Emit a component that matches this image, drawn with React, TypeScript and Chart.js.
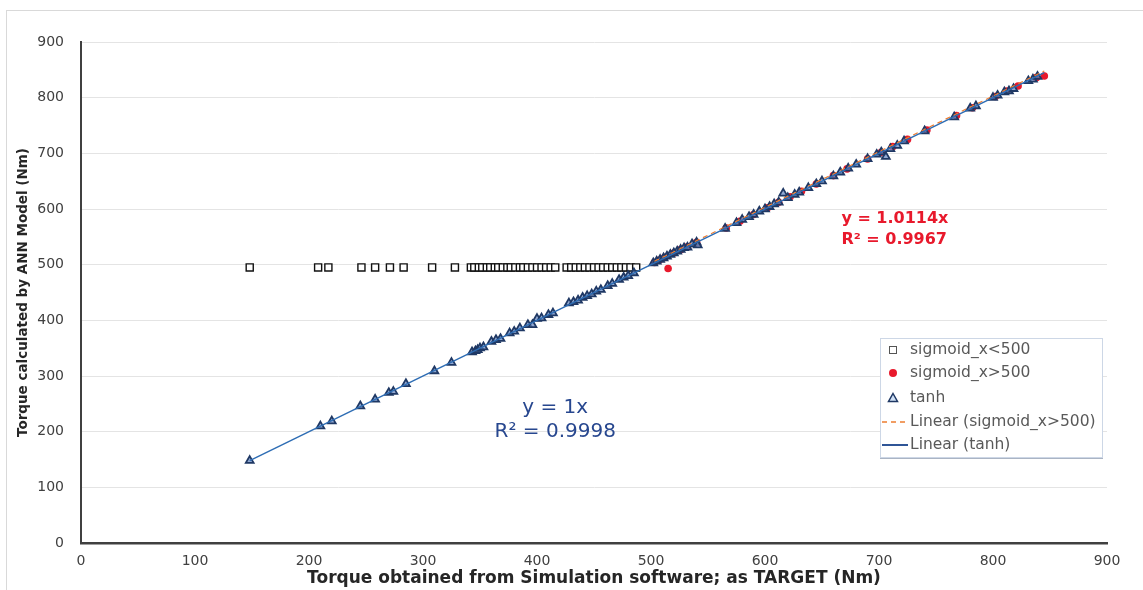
import React, { useEffect, useRef } from "react";
import { Chart, registerables } from "chart.js";

Chart.register(...registerables);

// ---------------- DATA ----------------
const sigLowX = [148, 208, 217, 246, 258, 271, 283, 308, 328, 342, 345, 349, 352, 356, 359, 363, 366, 370, 374, 377, 381, 385, 388, 392, 396, 400, 404, 408, 412, 416, 426, 430, 434, 438, 442, 446, 450, 454, 458, 462, 466, 470, 474, 478, 482, 487];
const sigLowY = [495, 495, 495, 495, 495, 495, 495, 495, 495, 495, 495, 495, 495, 495, 495, 495, 495, 495, 495, 495, 495, 495, 495, 495, 495, 495, 495, 495, 495, 495, 495, 495, 495, 495, 495, 495, 495, 495, 495, 495, 495, 495, 495, 495, 495, 495];

const sigHighX = [503, 507, 512, 515, 520, 526, 532, 540, 566, 578, 590, 602, 612, 622, 632, 645, 660, 672, 690, 702, 712, 725, 742, 768, 782, 802, 812, 822, 838, 845];
const sigHighY = [504, 508, 513, 493, 521, 527, 532, 540, 566, 578, 590, 602, 612, 622, 632, 645, 660, 672, 690, 702, 712, 725, 742, 768, 782, 802, 812, 821, 836, 839];

const tanhX = [148, 210, 220, 245, 258, 270, 274, 285, 310, 325, 343, 346, 348, 350, 353, 360, 364, 368, 376, 380, 385, 392, 396, 400, 404, 410, 414, 428, 432, 436, 440, 444, 448, 452, 456, 462, 466, 472, 476, 480, 485, 502, 505, 508, 511, 514, 517, 520, 523, 526, 529, 532, 536, 540, 541, 565, 575, 580, 586, 590, 595, 600, 604, 608, 612, 616, 620, 626, 630, 638, 645, 650, 660, 666, 673, 680, 690, 698, 702, 706, 710, 716, 722, 740, 766, 780, 785, 800, 804, 810, 814, 818, 831, 835, 839];
const tanhY = [148, 210, 219, 246, 258, 270, 272, 286, 309, 324, 343, 345, 347, 350, 352, 362, 365, 367, 377, 380, 386, 392, 392, 403, 404, 410, 413, 431, 433, 436, 441, 444, 447, 452, 455, 462, 466, 473, 477, 480, 485, 503, 506, 509, 512, 515, 518, 521, 524, 527, 530, 531, 537, 540, 535, 565, 575, 581, 586, 590, 596, 600, 604, 609, 612, 628, 620, 626, 630, 638, 645, 650, 659, 666, 673, 680, 690, 698, 702, 694, 708, 714, 722, 740, 765, 781, 785, 800, 804, 810, 812, 816, 830, 833, 838];

const trendSigX = [503, 845];
const trendSigY = [506, 848];
const trendTanhX = [148, 845];
const trendTanhY = [148, 845];

const axisMin = 0;
const axisMax = 900;
const axisStep = 100;

const seriesLabels = ["sigmoid_x<500", "sigmoid_x>500", "tanh", "Linear (sigmoid_x>500)", "Linear (tanh)"];
const xTitle = "Torque obtained from Simulation software; as TARGET (Nm)";
const yTitle = "Torque calculated by ANN Model (Nm)";
const eqSigLines = ["y = 1.0114x", "R² = 0.9967"];
const eqSigAnchor = [667, 582];
const eqTanhLines = ["y = 1x", "R² = 0.9998"];
const eqTanhAnchor = [416, 243];

// ---------------- STYLE ----------------
const FONT = "'DejaVu Sans', 'Open Sans', sans-serif";
const RED = "#e8192c";
const NAVY = "#1f3864";
const LINE_BLUE = "#2e6db4";
const ORANGE = "#ed7d31";
const TEXT_GREY = "#595959";
const TICK_GREY = "#404040";

const pts = (xs: number[], ys: number[]) => xs.map((x, i) => ({ x, y: ys[i] }));

const framePlugin = {
  id: "frame",
  beforeDraw(chart: any) {
    const ctx = chart.ctx;
    ctx.save();
    ctx.fillStyle = "#ffffff";
    ctx.fillRect(0, 0, chart.width, chart.height);
    ctx.strokeStyle = "#d9d9d9";
    ctx.lineWidth = 1;
    ctx.strokeRect(6.5, 10.5, chart.width + 20, chart.height + 20);
    ctx.restore();
  },
};

const annotationPlugin = {
  id: "annotations",
  afterDatasetsDraw(chart: any) {
    const ctx = chart.ctx;
    const xs = chart.scales.x;
    const ys = chart.scales.y;
    ctx.save();
    ctx.fillStyle = RED;
    ctx.font = `bold 16px ${FONT}`;
    ctx.textAlign = "left";
    ctx.textBaseline = "middle";
    const rx = xs.getPixelForValue(eqSigAnchor[0]);
    const ry = ys.getPixelForValue(eqSigAnchor[1]);
    eqSigLines.forEach((t, i) => ctx.fillText(t, rx, ry + i * 21));
    ctx.fillStyle = "#27478f";
    ctx.font = `20px ${FONT}`;
    ctx.textAlign = "center";
    const bx = xs.getPixelForValue(eqTanhAnchor[0]);
    const by = ys.getPixelForValue(eqTanhAnchor[1]);
    eqTanhLines.forEach((t, i) => ctx.fillText(t, bx, by + i * 24));
    ctx.restore();
  },
};

const legendPlugin = {
  id: "customLegend",
  afterDraw(chart: any) {
    const ctx = chart.ctx;
    const left = 880, top = 338, w = 222, h = 119;
    ctx.save();
    ctx.fillStyle = "#ffffff";
    ctx.fillRect(left, top, w, h);
    ctx.strokeStyle = "#cdd7e6";
    ctx.lineWidth = 1;
    ctx.strokeRect(left + 0.5, top + 0.5, w, h);
    ctx.strokeStyle = "#aab4c4";
    ctx.beginPath();
    ctx.moveTo(left, top + h + 1.5);
    ctx.lineTo(left + w + 1, top + h + 1.5);
    ctx.stroke();

    const rows = [350, 373, 398, 422, 445];
    const mx = 893;
    ctx.font = `15.5px ${FONT}`;
    ctx.textBaseline = "middle";
    ctx.textAlign = "left";
    rows.forEach((ry, i) => {
      ctx.save();
      if (i === 0) {
        ctx.strokeStyle = "#555";
        ctx.lineWidth = 1;
        ctx.strokeRect(mx - 3.5, ry - 3.5, 7, 7);
      } else if (i === 1) {
        ctx.fillStyle = RED;
        ctx.beginPath();
        ctx.arc(mx, ry, 4, 0, Math.PI * 2);
        ctx.fill();
      } else if (i === 2) {
        ctx.strokeStyle = NAVY;
        ctx.fillStyle = "#cfe0f5";
        ctx.lineWidth = 1.5;
        ctx.beginPath();
        ctx.moveTo(mx, ry - 4.5);
        ctx.lineTo(mx + 4.5, ry + 3.5);
        ctx.lineTo(mx - 4.5, ry + 3.5);
        ctx.closePath();
        ctx.fill();
        ctx.stroke();
      } else if (i === 3) {
        ctx.strokeStyle = ORANGE;
        ctx.lineWidth = 1.5;
        ctx.setLineDash([5, 4]);
        ctx.beginPath();
        ctx.moveTo(882, ry);
        ctx.lineTo(908, ry);
        ctx.stroke();
      } else {
        ctx.strokeStyle = "#2f5597";
        ctx.lineWidth = 2;
        ctx.beginPath();
        ctx.moveTo(882, ry);
        ctx.lineTo(908, ry);
        ctx.stroke();
      }
      ctx.restore();
      ctx.fillStyle = TEXT_GREY;
      ctx.fillText(seriesLabels[i], 910, ry);
    });
    ctx.restore();
  },
};

export default function App() {
  const ref = useRef<HTMLCanvasElement | null>(null);

  useEffect(() => {
    document.body.style.margin = "0";
    if (!ref.current) return;
    const chart = new Chart(ref.current, {
      type: "scatter",
      data: {
        datasets: [
          {
            label: seriesLabels[3],
            data: pts(trendSigX, trendSigY),
            showLine: true,
            borderColor: ORANGE,
            borderWidth: 1.2,
            borderDash: [5, 4],
            pointRadius: 0,
            order: 1,
          },
          {
            label: seriesLabels[4],
            data: pts(trendTanhX, trendTanhY),
            showLine: true,
            borderColor: LINE_BLUE,
            borderWidth: 1.5,
            pointRadius: 0,
            order: 0,
          },
          {
            label: seriesLabels[2],
            data: pts(tanhX, tanhY),
            pointStyle: "triangle",
            pointRadius: 4.5,
            borderColor: NAVY,
            backgroundColor: "rgba(110,140,195,0.75)",
            borderWidth: 1.8,
            order: 2,
          },
          {
            label: seriesLabels[1],
            data: pts(sigHighX, sigHighY),
            pointStyle: "circle",
            pointRadius: 3.8,
            borderColor: RED,
            backgroundColor: RED,
            borderWidth: 0,
            order: 3,
          },
          {
            label: seriesLabels[0],
            data: pts(sigLowX, sigLowY),
            pointStyle: "rect",
            pointRadius: 5,
            borderColor: "#111",
            backgroundColor: "#ffffff",
            borderWidth: 1.4,
            order: 4,
          },
        ],
      },
      options: {
        animation: false,
        responsive: false,
        maintainAspectRatio: false,
        layout: { padding: { left: 0, right: 36, top: 42, bottom: 0 } },
        plugins: { legend: { display: false }, tooltip: { enabled: false } },
        scales: {
          x: {
            type: "linear",
            min: axisMin,
            max: axisMax,
            ticks: { stepSize: axisStep, color: TICK_GREY, font: { family: FONT, size: 14 }, padding: 10 },
            grid: { color: "rgba(0,0,0,0)", drawTicks: false },
            border: { color: "#404040", width: 2.5 },
            title: {
              display: true,
              text: xTitle,
              color: "#262626",
              font: { family: FONT, size: 17, weight: "bold" },
              padding: { top: 0, bottom: 1 },
            },
            afterFit: (s: any) => {
              s.height = 47;
            },
          },
          y: {
            type: "linear",
            min: axisMin,
            max: axisMax,
            ticks: { stepSize: axisStep, color: TICK_GREY, font: { family: FONT, size: 14 }, padding: 17 },
            grid: { color: "#e4e4e4", drawTicks: false, lineWidth: 1 },
            border: { color: "#404040", width: 2 },
            title: {
              display: true,
              text: yTitle,
              color: "#262626",
              font: { family: FONT, size: 13.5, weight: "bold" },
              padding: { top: 15, bottom: 0 },
            },
            afterFit: (s: any) => {
              s.width = 81;
            },
          },
        },
      },
      plugins: [framePlugin, annotationPlugin, legendPlugin],
    });
    return () => chart.destroy();
  }, []);

  return (
    <div style={{ width: 1143, height: 590 }}>
      <canvas ref={ref} width={1143} height={590} style={{ display: "block", width: 1143, height: 590 }} />
    </div>
  );
}
